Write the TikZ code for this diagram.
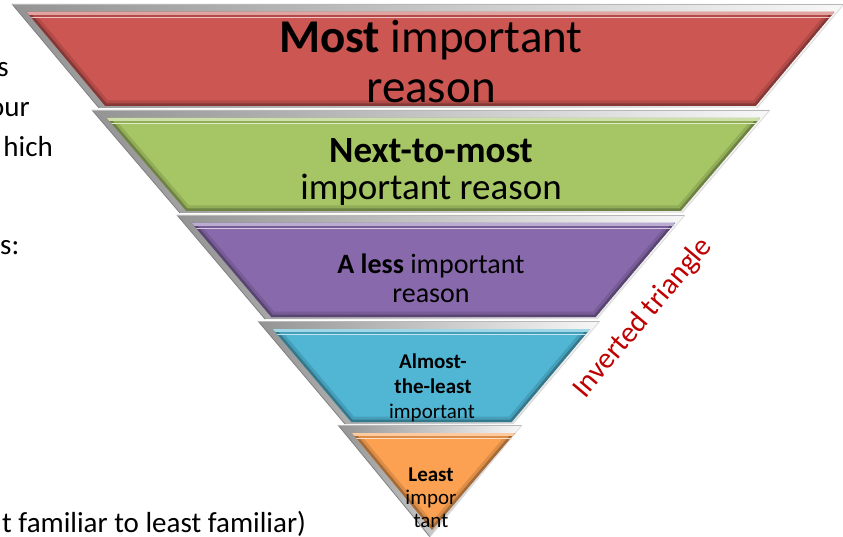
\documentclass[tikz,border=0pt]{standalone}
\usepackage{fontspec}
\setmainfont{Carlito}
\definecolor{bred}{HTML}{CB5652}
\definecolor{bgreen}{HTML}{A6C564}
\definecolor{bpurple}{HTML}{8869AC}
\definecolor{bblue}{HTML}{50B6D4}
\definecolor{borange}{HTML}{FBA151}
\definecolor{tred}{HTML}{C00000}
% set band corner coordinates: #1 top y, #2 bottom y, #3 centre x, #4 top half width, #5 bottom half width
\newcommand\setband[5]{%
  \pgfmathsetmacro\bs{(#4-#5)/(#2-#1)}%
  \coordinate (oTL) at ({#3-#4},#1);
  \coordinate (oTR) at ({#3+#4},#1);
  \coordinate (oBR) at ({#3+#5},#2);
  \coordinate (oBL) at ({#3-#5},#2);
  \coordinate (iTL) at ({#3-#4+8+8*\bs},{#1+8});
  \coordinate (iTR) at ({#3+#4-3-8*\bs},{#1+8});
  \coordinate (iBR) at ({#3+#5-3+2*\bs},{#2-2});
  \coordinate (iBL) at ({#3-#5+8-2*\bs},{#2-2});
}
\newcommand\paintband[1]{%
  \shade[left color=black!42, right color=black!3] (oTL)--(oTR)--(oBR)--(oBL)--cycle;
  \draw[black!50, line width=.8] (oBL)--(oTL);
  \draw[black!28, line width=.8] (oTL)--(oTR);
  \draw[black!14, line width=.8] (oTR)--(oBR);
  \begin{scope}
    \clip (iTL)--(iTR)--(iBR)--(iBL)--cycle;
    \fill[#1] (iTL)--(iTR)--(iBR)--(iBL)--cycle;
    \draw[line width=11, #1!60!black, opacity=.3] (iTL)--(iTR)--(iBR)--(iBL)--cycle;
    \draw[line width=5, #1!45!black, opacity=.5] (iTR)--(iBR)--(iBL)--(iTL);
    \draw[line width=6, #1!55!white] (iTL)--(iTR);
    \draw[line width=1.2, #1!35!white] ([yshift=-5.5pt]iTL)--([yshift=-5.5pt]iTR);
  \end{scope}
}
\begin{document}
\begin{tikzpicture}[x=1pt,y=-1pt,
  lbl/.style={anchor=base, inner sep=0pt, text=black},
  side/.style={inner sep=0pt, text=black, font=\fontsize{29}{35}\selectfont}]
\useasboundingbox (0,0) rectangle (843,537);
\clip (0,0) rectangle (843,537);
\fill[white] (0,0) rectangle (843,537);

% left slide text fragments
\node[side, anchor=base east] (l1) at (9,77) {s};
\node[side, anchor=base east] (l2) at (30,117) {our};
\node[side, anchor=base east] (l3) at (53,157) {hich};
\node[side, anchor=base west] (l4) at (0,255) {s:};
\node[side, anchor=base west] (l5) at (2,532) {t familiar to least familiar)};

% bands
\setband{4}{108}{428}{416}{329}
\paintband{bred}
\setband{110}{213}{431}{339}{251}
\paintband{bgreen}
\setband{215}{319}{431}{254}{166}
\paintband{bpurple}
\setband{321}{424}{429}{171}{84}
\paintband{bblue}
% apex band (triangle)
\coordinate (oTL) at (338,425);
\coordinate (oTR) at (522,425);
\coordinate (oBR) at (430,537);
\coordinate (oBL) at (430,537);
\coordinate (iTL) at (352,433);
\coordinate (iTR) at (515,433);
\coordinate (iBR) at (432,530);
\coordinate (iBL) at (432,530);
\paintband{borange}

% band texts
\node[lbl, font=\fontsize{47}{50}\selectfont] (r1) at (431,53) {\textbf{Most} important};
\node[lbl, font=\fontsize{47}{50}\selectfont] (r2) at (431,103) {reason};
\node[lbl, font=\fontsize{37}{40}\selectfont] (g1) at (431,163) {\textbf{Next-to-most}};
\node[lbl, font=\fontsize{37}{40}\selectfont] (g2) at (431,200) {important reason};
\node[lbl, font=\fontsize{28}{30}\selectfont] (p1) at (431,273) {\textbf{A less} important};
\node[lbl, font=\fontsize{28}{30}\selectfont] (p2) at (431,302) {reason};
\node[lbl, font=\fontsize{21}{24}\selectfont] (b1) at (433,368) {\textbf{Almost-}};
\node[lbl, font=\fontsize{21}{24}\selectfont] (b2) at (433,393) {\textbf{the-least}};
\node[lbl, font=\fontsize{21}{24}\selectfont] (b3) at (432,418) {important};
\node[lbl, font=\fontsize{21}{24}\selectfont] (o1) at (431,481) {\textbf{Least}};
\node[lbl, font=\fontsize{21}{24}\selectfont] (o2) at (431,504) {impor};
\node[lbl, font=\fontsize{21}{24}\selectfont] (o3) at (431,527) {tant};

% rotated label
\node[inner sep=0pt, text=tred, rotate=50, font=\fontsize{29.5}{32}\selectfont] (inv) at (643,318) {Inverted triangle};
\end{tikzpicture}
\end{document}
